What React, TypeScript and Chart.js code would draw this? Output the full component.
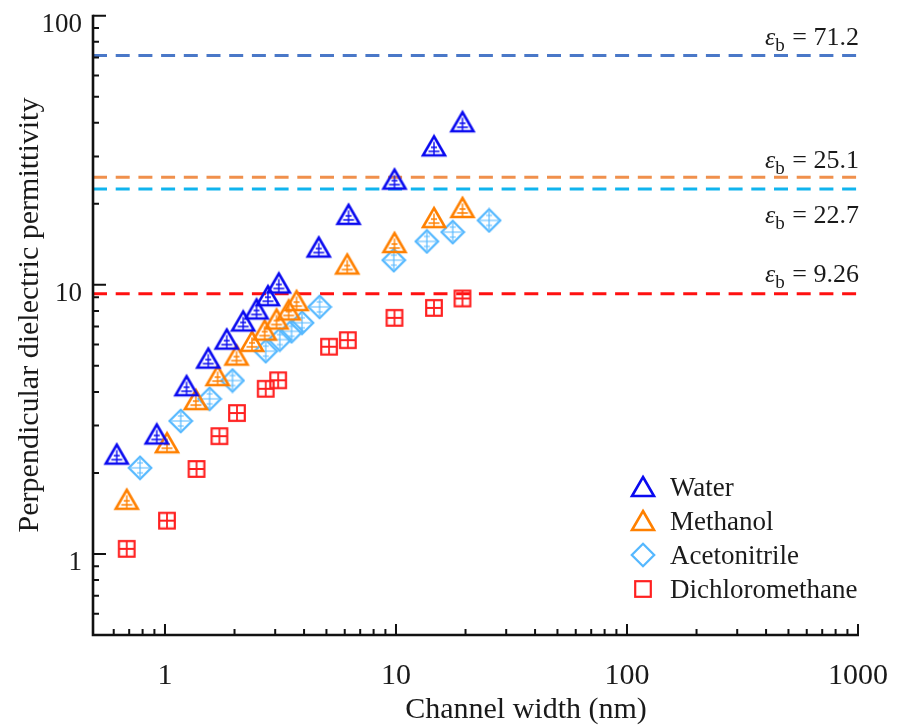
import React, { useEffect, useRef } from "react";
import { Chart, registerables } from "chart.js";

Chart.register(...registerables);

// ---------- data ----------
const waterWidth = [0.618, 0.921, 1.24, 1.54, 1.85, 2.18, 2.49, 2.79, 3.11, 4.63, 6.23, 9.85, 14.6, 19.4];
const waterEps = [2.34, 2.78, 4.2, 5.32, 6.26, 7.31, 8.1, 9.07, 10.12, 13.76, 18.2, 24.6, 32.7, 40.2];

const methanolWidth = [0.683, 1.02, 1.36, 1.69, 2.04, 2.38, 2.7, 3.04, 3.43, 3.71, 6.15, 9.85, 14.6, 19.4];
const methanolEps = [1.59, 2.58, 3.73, 4.58, 5.46, 6.14, 6.76, 7.43, 8.03, 8.7, 11.9, 14.3, 17.7, 19.3];

const acetonitrileWidth = [0.78, 1.17, 1.56, 1.96, 2.73, 3.14, 3.53, 3.92, 4.67, 9.78, 13.6, 17.6, 25.3];
const acetonitrileEps = [2.09, 3.12, 3.77, 4.41, 5.67, 6.26, 6.72, 7.23, 8.28, 12.35, 14.5, 15.7, 17.35];

const dcmWidth = [0.683, 1.02, 1.37, 1.72, 2.05, 2.73, 3.09, 5.13, 6.19, 9.85, 14.6, 19.4];
const dcmEps = [1.045, 1.33, 2.07, 2.74, 3.34, 4.11, 4.42, 5.89, 6.23, 7.54, 8.21, 8.9];

const seriesNames = ["Water", "Methanol", "Acetonitrile", "Dichloromethane"];
const bulkValues = [71.2, 25.1, 22.7, 9.26];
const bulkLabels = ["71.2", "25.1", "22.7", "9.26"];

const xTickValues = [1, 10, 100, 1000];
const xTickLabels = ["1", "10", "100", "1000"];
const yTickValues = [1, 10, 100];
const yTickLabels = ["1", "10", "100"];

const X_MIN = 0.488;
const X_MAX = 1000;
const Y_MIN = 0.5;
const Y_MAX = 100;

// ---------- styles ----------
const SERIF = "'Liberation Serif', 'Times New Roman', serif";
const TEXT = "#1a1a1a";
const seriesColors = ["#0a0af0", "#ff8000", "#55b8ff", "#ff2020"];
const bulkColors = ["#4a78c8", "#f0904c", "#10b4ee", "#ff1010"];

type Kind = "tri" | "dia" | "sq";
const seriesKinds: Kind[] = ["tri", "tri", "dia", "sq"];

function makeMarker(kind: Kind, color: string, inner: boolean): HTMLCanvasElement {
  const c = document.createElement("canvas");
  const ctx = c.getContext("2d")!;
  if (kind === "tri") {
    c.width = 28; c.height = 26;
    ctx.strokeStyle = color; ctx.lineWidth = 2.6; ctx.lineJoin = "miter";
    ctx.beginPath();
    ctx.moveTo(14, 3); ctx.lineTo(25, 22); ctx.lineTo(3, 22); ctx.closePath();
    ctx.stroke();
    if (inner) {
      ctx.lineWidth = 1.4;
      ctx.beginPath();
      ctx.moveTo(14, 8.5); ctx.lineTo(14, 21);
      ctx.moveTo(11, 14); ctx.lineTo(17, 14);
      ctx.moveTo(8.5, 18); ctx.lineTo(19.5, 18);
      ctx.stroke();
    }
  } else if (kind === "dia") {
    c.width = 26; c.height = 26;
    ctx.strokeStyle = color; ctx.lineWidth = 2.3;
    ctx.beginPath();
    ctx.moveTo(13, 1.8); ctx.lineTo(24.2, 13); ctx.lineTo(13, 24.2); ctx.lineTo(1.8, 13); ctx.closePath();
    ctx.stroke();
    if (inner) {
      ctx.lineWidth = 1.2;
      ctx.beginPath();
      ctx.moveTo(4, 13); ctx.lineTo(22, 13);
      ctx.moveTo(13, 4); ctx.lineTo(13, 22);
      ctx.moveTo(10, 8); ctx.lineTo(16, 8);
      ctx.moveTo(10, 18); ctx.lineTo(16, 18);
      ctx.stroke();
    }
  } else {
    c.width = 20; c.height = 20;
    ctx.strokeStyle = color; ctx.lineWidth = 2.2;
    ctx.strokeRect(2.2, 2.2, 15.6, 15.6);
    if (inner) {
      ctx.lineWidth = 1.8;
      ctx.beginPath();
      ctx.moveTo(10, 3); ctx.lineTo(10, 17);
      ctx.moveTo(3, 10); ctx.lineTo(17, 10);
      ctx.stroke();
    }
  }
  return c;
}

function toPoints(xs: number[], ys: number[]) {
  return xs.map((x, i) => ({ x, y: ys[i] }));
}

function drawEps(ctx: CanvasRenderingContext2D, right: number, baseline: number, val: string) {
  const big = 26;
  const small = 19;
  ctx.font = `italic ${big}px ${SERIF}`;
  const we = ctx.measureText("ε").width;
  ctx.font = `${small}px ${SERIF}`;
  const wb = ctx.measureText("b").width;
  ctx.font = `${big}px ${SERIF}`;
  const rest = " = " + val;
  const wr = ctx.measureText(rest).width;
  let x0 = right - (we + wb + 1 + wr);
  ctx.textAlign = "left";
  ctx.textBaseline = "alphabetic";
  ctx.font = `italic ${big}px ${SERIF}`;
  ctx.fillText("ε", x0, baseline);
  x0 += we;
  ctx.font = `${small}px ${SERIF}`;
  ctx.fillText("b", x0, baseline + 6);
  x0 += wb + 1;
  ctx.font = `${big}px ${SERIF}`;
  ctx.fillText(rest, x0, baseline);
}

export default function App() {
  const ref = useRef<HTMLCanvasElement>(null);

  useEffect(() => {
    const canvas = ref.current!;
    const dataMarkers = seriesKinds.map((k, i) => makeMarker(k, seriesColors[i], true));
    const legendMarkers = seriesKinds.map((k, i) => makeMarker(k, seriesColors[i], false));

    const seriesX = [waterWidth, methanolWidth, acetonitrileWidth, dcmWidth];
    const seriesY = [waterEps, methanolEps, acetonitrileEps, dcmEps];

    const markerSets = seriesNames.map((name, i) => ({
      type: "scatter" as const,
      label: name,
      data: toPoints(seriesX[i], seriesY[i]),
      pointStyle: dataMarkers[i],
      pointRadius: 11,
      showLine: false,
      order: 1,
    }));

    const lineSets = bulkValues.map((v, i) => ({
      type: "line" as const,
      label: "bulk " + bulkLabels[i],
      data: [{ x: X_MIN, y: v }, { x: X_MAX, y: v }],
      borderColor: bulkColors[i],
      borderWidth: 3,
      borderDash: [14, 8.7],
      pointRadius: 0,
      fill: false,
      order: 2,
    }));

    const decor = {
      id: "decor",
      afterDraw(chart: any) {
        const { ctx, chartArea: a } = chart;
        const xs = chart.scales.x;
        const ys = chart.scales.y;
        ctx.save();
        ctx.strokeStyle = "#111";
        ctx.fillStyle = TEXT;
        // axes
        ctx.lineWidth = 2.6;
        ctx.beginPath();
        ctx.moveTo(a.left, a.top - 1);
        ctx.lineTo(a.left, a.bottom);
        ctx.lineTo(a.right + 1, a.bottom);
        ctx.stroke();
        // ticks
        ctx.lineWidth = 2;
        ctx.beginPath();
        for (let e = -1; e <= 2; e++) {
          for (let m = 1; m <= 9; m++) {
            const v = m * Math.pow(10, e);
            if (v < X_MIN * 1.1 || v > X_MAX) continue;
            const px = xs.getPixelForValue(v);
            const len = m === 1 ? 11 : 6;
            ctx.moveTo(px, a.bottom);
            ctx.lineTo(px, a.bottom - len);
          }
        }
        {
          const px = xs.getPixelForValue(1000);
          ctx.moveTo(px, a.bottom);
          ctx.lineTo(px, a.bottom - 11);
        }
        for (let e = -1; e <= 2; e++) {
          for (let m = 1; m <= 9; m++) {
            const v = m * Math.pow(10, e);
            if (v <= Y_MIN * 1.05 || v > Y_MAX) continue;
            const py = ys.getPixelForValue(v);
            const len = m === 1 ? 13 : 6;
            ctx.moveTo(a.left, py);
            ctx.lineTo(a.left + len, py);
          }
        }
        ctx.stroke();
        // tick labels
        ctx.font = `30px ${SERIF}`;
        ctx.textAlign = "center";
        ctx.textBaseline = "alphabetic";
        xTickValues.forEach((v, i) => {
          ctx.fillText(xTickLabels[i], xs.getPixelForValue(v), 684);
        });
        ctx.font = `27px ${SERIF}`;
        ctx.textAlign = "right";
        yTickValues.forEach((v, i) => {
          ctx.fillText(yTickLabels[i], 82, ys.getPixelForValue(v) + 16);
        });
        // titles
        ctx.font = `30px ${SERIF}`;
        ctx.textAlign = "center";
        ctx.fillText("Channel width (nm)", 526, 718);
        ctx.save();
        ctx.translate(38, 315);
        ctx.rotate(-Math.PI / 2);
        ctx.fillText("Perpendicular dielectric permittivity", 0, 0);
        ctx.restore();
        // bulk labels
        const epsBase = [45, 168, 223, 282];
        bulkLabels.forEach((l, i) => drawEps(ctx, 859, epsBase[i], l));
        // legend
        const legBase = [496, 530, 564, 598];
        ctx.font = `27px ${SERIF}`;
        ctx.textAlign = "left";
        seriesNames.forEach((n, i) => {
          const img = legendMarkers[i];
          ctx.drawImage(img, 643 - img.width / 2, legBase[i] - 9 - img.height / 2);
          ctx.fillText(n, 670, legBase[i]);
        });
        ctx.restore();
      },
    };

    const chart = new Chart(canvas, {
      type: "scatter",
      data: { datasets: [...markerSets, ...lineSets] as any },
      options: {
        responsive: false,
        animation: false,
        devicePixelRatio: 1,
        layout: { padding: { left: 93, right: 39, top: 15.7, bottom: 90 } },
        plugins: { legend: { display: false }, tooltip: { enabled: false } },
        scales: {
          x: { type: "logarithmic", min: X_MIN, max: X_MAX, display: false },
          y: { type: "logarithmic", min: Y_MIN, max: Y_MAX, display: false },
        },
      },
      plugins: [decor],
    });
    return () => chart.destroy();
  }, []);

  return (
    <div style={{ position: "absolute", left: 0, top: 0, width: 897, height: 725, background: "#fff" }}>
      <canvas ref={ref} width={897} height={725} style={{ display: "block", width: 897, height: 725 }} />
    </div>
  );
}
